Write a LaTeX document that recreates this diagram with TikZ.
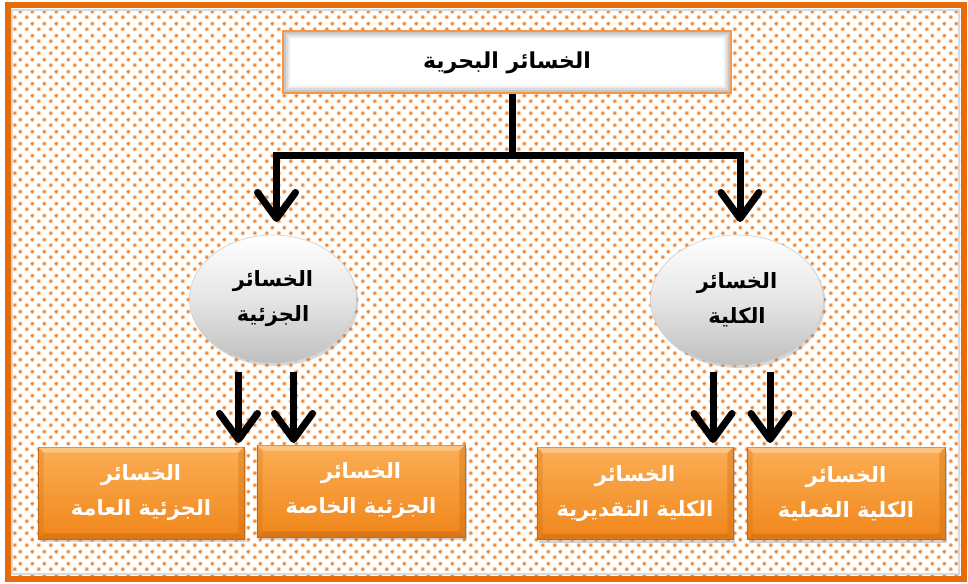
\documentclass[tikz,border=0pt]{standalone}
\usepackage{fontspec}
\newfontfamily\arabicfont[Script=Arabic]{DejaVu Sans}
\TeXXeTstate=1
\usetikzlibrary{arrows.meta,shadows,patterns,calc,shapes.geometric}
\definecolor{frameorange}{HTML}{E46C0A}
\definecolor{dotcore}{HTML}{EC7E2C}
\definecolor{dothalo}{HTML}{F8CBA2}
\definecolor{boxtop}{HTML}{FBAE55}
\definecolor{boxbot}{HTML}{F0861A}
\definecolor{boxedge}{HTML}{C9680E}
\definecolor{titleedge}{HTML}{F79646}
\pgfdeclarepatterninherentlycolored{odots}{\pgfpointorigin}{\pgfpoint{12pt}{12pt}}{\pgfpoint{12pt}{12pt}}{%
  \pgfsetfillcolor{dothalo}%
  \pgfpathcircle{\pgfpoint{3pt}{3pt}}{2.5pt}\pgfusepath{fill}%
  \pgfpathcircle{\pgfpoint{9pt}{9pt}}{2.5pt}\pgfusepath{fill}%
  \pgfsetfillcolor{dotcore}%
  \pgfpathcircle{\pgfpoint{3pt}{3pt}}{1.6pt}\pgfusepath{fill}%
  \pgfpathcircle{\pgfpoint{9pt}{9pt}}{1.6pt}\pgfusepath{fill}%
}
\tikzset{
  txt/.style={font=\arabicfont\bfseries\fontsize{21}{35}\selectfont, align=center, inner sep=0pt},
  titletxt/.style={txt, font=\arabicfont\bfseries\fontsize{22}{35}\selectfont},
  titlebox/.style={draw=titleedge, line width=4pt, fill=white, minimum width=446pt, minimum height=60pt, inner sep=0pt},
  ell/.style={txt, ellipse, draw=gray!40, line width=0.6pt, top color=white, bottom color=gray!50, middle color=gray!20,
    drop shadow={shadow xshift=2pt, shadow yshift=-3pt, opacity=0.3}},
  obox/.style={txt, text=white, draw=boxedge, line width=0.8pt, top color=boxtop, bottom color=boxbot,
    drop shadow={shadow xshift=2pt, shadow yshift=-3pt, opacity=0.35}, minimum height=92pt},
  conn/.style={line width=7pt, black, line join=miter},
  arr/.style={conn, -{Straight Barb[round, length=26pt, width=38pt]}}
}
\begin{document}
\begin{tikzpicture}[x=1pt, y=-1pt]
\useasboundingbox (0,0) rectangle (968,583);
% background with dots
\fill[white] (0,0) rectangle (968,583);
\fill[pattern=odots] (8,6) rectangle (963,578);
\draw[gray!30, line width=2pt] (12,10) rectangle (959,574);
\draw[frameorange, line width=6pt] (8,5) rectangle (964,579);
% title
\node[titlebox] (top) at (507,62.5) {};
\foreach \i/\c in {3/45,5/28,7/14}{
  \draw[gray!\c, line width=2pt] ([shift={(\i pt,-\i pt)}]top.north west) rectangle ([shift={(-\i pt,\i pt)}]top.south east);
}
\node[titletxt] (toptext) at (top.center) {\beginR الخسائر البحرية\endR};
% ellipses
\node[ell, minimum width=167pt, minimum height=128pt] (e1) at (273,299) {\beginR الخسائر\endR\\\beginR الجزئية\endR};
\node[ell, minimum width=173pt, minimum height=130pt] (e2) at (737,300) {\beginR الخسائر\endR\\\beginR الكلية\endR};
% bottom boxes
\node[obox, minimum width=206pt] (b1) at (141,493) {\beginR الخسائر\endR\\\beginR الجزئية العامة\endR};
\node[obox, minimum width=208pt] (b2) at (361,491) {\beginR الخسائر\endR\\\beginR الجزئية الخاصة\endR};
\node[obox, minimum width=196pt] (b3) at (635,493.5) {\beginR الخسائر\endR\\\beginR الكلية التقديرية\endR};
\node[obox, minimum width=198pt] (b4) at (846,493.5) {\beginR الخسائر\endR\\\beginR الكلية الفعلية\endR};
% bevel edges of the boxes
\foreach \n in {b1,b2,b3,b4}{
  \fill[white, opacity=0.28] (\n.north west) -- (\n.north east) -- ([shift={(-6pt,-6pt)}]\n.north east) -- ([shift={(6pt,-6pt)}]\n.north west) -- cycle;
  \fill[boxedge, opacity=0.5] (\n.south west) -- (\n.south east) -- ([shift={(-6pt,6pt)}]\n.south east) -- ([shift={(6pt,6pt)}]\n.south west) -- cycle;
  \fill[boxedge, opacity=0.25] (\n.north west) -- ([shift={(6pt,-6pt)}]\n.north west) -- ([shift={(6pt,6pt)}]\n.south west) -- (\n.south west) -- cycle;
  \fill[boxedge, opacity=0.35] (\n.north east) -- ([shift={(-6pt,-6pt)}]\n.north east) -- ([shift={(-6pt,6pt)}]\n.south east) -- (\n.south east) -- cycle;
}
% connectors
\coordinate (hub) at (512.5,155);
\coordinate (t1) at (276.5,222);
\coordinate (t2) at (740,222);
\draw[conn] (hub |- top.south) -- (hub);
\draw[arr] (hub) -| (t1);
\draw[arr] (hub) -| (t2);
\coordinate (s1) at (238.5,372); \coordinate (d1) at (238.5,443);
\coordinate (s2) at (293.5,372); \coordinate (d2) at (293.5,443);
\coordinate (s3) at (713,372); \coordinate (d3) at (713,443);
\coordinate (s4) at (770,372); \coordinate (d4) at (770,443);
\draw[arr] (s1) -- (d1);
\draw[arr] (s2) -- (d2);
\draw[arr] (s3) -- (d3);
\draw[arr] (s4) -- (d4);
\end{tikzpicture}
\end{document}
